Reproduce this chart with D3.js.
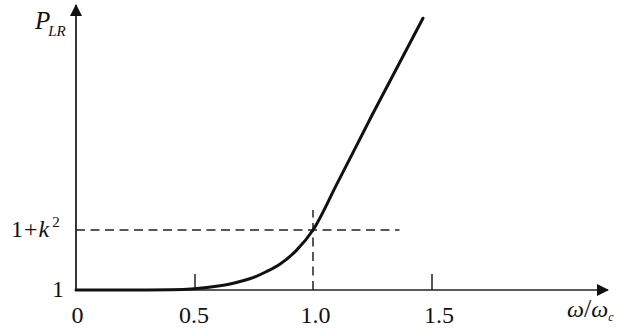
<!DOCTYPE html>
<html>
<head>
<meta charset="utf-8">
<script src="https://cdn.jsdelivr.net/npm/d3@7"></script>
<style>
  html, body { margin: 0; padding: 0; background: #fff; }
  svg { display: block; }
</style>
</head>
<body>
<svg id="chart" width="625" height="329"></svg>
<script>
// Normalised frequency ω/ωc and loss ratio P_LR (units where k² = 1)
const omega = [0, 0.2, 0.3, 0.4, 0.5, 0.6, 0.65, 0.7, 0.75, 0.8, 0.86, 0.93, 1.0, 1.1, 1.25, 1.464];
const pLR   = [1, 1, 1, 1.003, 1.02, 1.065, 1.10, 1.15, 1.21, 1.30, 1.43, 1.66, 2.0, 2.76, 3.92, 5.53];

// Axis ticks and their labels
const xTicks = [0, 0.5, 1.0, 1.5];
const xTickLabels = ["0", "0.5", "1.0", "1.5"];
const xTickMarks = [0.5, 1.5];
const refOmega = 1.0;   // ω = ωc
const refLevel = 2.0;   // 1 + k²
const yTickLabels = ["1", "1+k²"];

const SERIF = "Liberation Serif";
const INK = "#111";
const svg = d3.select("#chart");
const x0 = 76, yBase = 290;

const x = d3.scaleLinear().domain([0, 1.5]).range([x0, 431.5]);
const y = d3.scaleLinear().domain([1, 2]).range([yBase, 230]);

// Arrow heads
svg.append("defs").append("marker")
  .attr("id", "arrow")
  .attr("viewBox", "0 0 12 12")
  .attr("refX", 11).attr("refY", 6)
  .attr("markerWidth", 12).attr("markerHeight", 12)
  .attr("markerUnits", "userSpaceOnUse")
  .attr("orient", "auto")
  .append("path")
  .attr("d", "M0,0 L12,6 L0,12 Z")
  .attr("fill", INK);

// Dashed reference lines
svg.append("line")
  .attr("x1", x(0)).attr("x2", x(1.365))
  .attr("y1", y(refLevel)).attr("y2", y(refLevel))
  .attr("stroke", "#222").attr("stroke-width", 1.5)
  .attr("stroke-dasharray", "9,5.5");
svg.append("line")
  .attr("x1", x(refOmega)).attr("x2", x(refOmega))
  .attr("y1", yBase).attr("y2", 210)
  .attr("stroke", "#222").attr("stroke-width", 1.5)
  .attr("stroke-dasharray", "9,5.5");

// x axis: tick marks point up into the plot
const xAxis = d3.axisBottom(x)
  .tickValues(xTickMarks)
  .tickSizeInner(-16)
  .tickSizeOuter(0)
  .tickFormat("");
const gx = svg.append("g").attr("transform", `translate(0,${yBase})`).call(xAxis);
gx.select(".domain").remove();
gx.selectAll(".tick line").attr("stroke", "#222").attr("stroke-width", 1.5);

// x tick labels
const labelShift = [1, -1, 2, 7];
const xLabelAxis = d3.axisBottom(x)
  .tickValues(xTicks)
  .tickSize(0)
  .tickPadding(16)
  .tickFormat((d, i) => xTickLabels[i]);
const gxl = svg.append("g").attr("transform", `translate(0,${yBase})`).call(xLabelAxis);
gxl.attr("font-family", SERIF).attr("font-size", 24);
gxl.select(".domain").remove();
gxl.selectAll("text")
  .attr("fill", INK)
  .attr("dx", (d, i) => labelShift[i]);

// Axis lines with arrows
svg.append("line")
  .attr("x1", x0).attr("y1", yBase).attr("x2", 608).attr("y2", yBase)
  .attr("stroke", "#222").attr("stroke-width", 1.6)
  .attr("marker-end", "url(#arrow)");
svg.append("line")
  .attr("x1", x0).attr("y1", yBase + 1).attr("x2", x0).attr("y2", 5)
  .attr("stroke", "#222").attr("stroke-width", 1.8)
  .attr("marker-end", "url(#arrow)");

// y labels
svg.append("text")
  .attr("x", 64).attr("y", y(1) + 7)
  .attr("text-anchor", "end").attr("font-size", 24)
  .attr("font-family", SERIF).attr("fill", INK)
  .text(yTickLabels[0]);
const kLabel = svg.append("text")
  .attr("x", 11).attr("y", y(refLevel) + 7)
  .attr("font-size", 24).attr("font-family", SERIF).attr("fill", INK);
kLabel.append("tspan").text("1");
kLabel.append("tspan").attr("dx", 1).text("+");
kLabel.append("tspan").attr("font-style", "italic").attr("dx", 1).text("k");
kLabel.append("tspan").attr("font-size", 15).attr("dy", -10).attr("dx", 3).text("2");

// Axis titles
const yTitle = svg.append("text").attr("x", 35).attr("y", 29)
  .attr("font-style", "italic").attr("font-family", SERIF).attr("fill", INK);
yTitle.append("tspan").attr("font-size", 25).text("P");
yTitle.append("tspan").attr("font-size", 15).attr("dy", 7).attr("dx", -2).text("LR");

const xTitle = svg.append("text").attr("x", 567).attr("y", 317)
  .attr("font-style", "italic").attr("font-family", SERIF).attr("fill", INK);
xTitle.append("tspan").attr("font-size", 24).text("ω");
xTitle.append("tspan").attr("font-size", 26).attr("font-style", "normal").text("/");
xTitle.append("tspan").attr("font-size", 24).text("ω");
xTitle.append("tspan").attr("font-size", 12).attr("dy", 4).text("c");

// Loss-ratio curve
const line = d3.line()
  .x((d, i) => x(omega[i]))
  .y(d => y(d))
  .curve(d3.curveMonotoneX);
svg.append("path")
  .datum(pLR)
  .attr("d", line)
  .attr("fill", "none")
  .attr("stroke", INK)
  .attr("stroke-width", 3)
  .attr("stroke-linecap", "round");
</script>
</body>
</html>
